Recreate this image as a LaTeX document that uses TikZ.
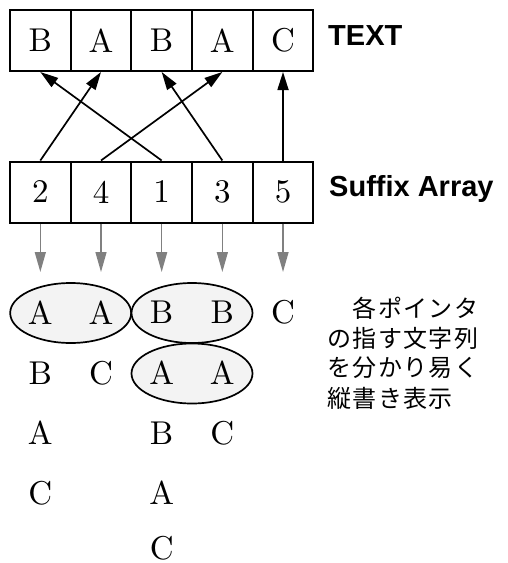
\documentclass[tikz,border=0pt]{standalone}
\usepackage{fontspec}
\setmainfont{lmroman10-regular.otf}
\newfontfamily\cjkfont[LetterSpace=6]{Noto Sans CJK JP}
\newfontfamily\labelfont{Liberation Sans}
\usetikzlibrary{shapes.geometric,arrows.meta}

\definecolor{ptrgray}{HTML}{808080}
\definecolor{groupfill}{HTML}{F3F3F3}

\tikzset{
  cellbox/.style={draw, line width=2pt, minimum width=60.67pt, minimum height=61pt,
    inner sep=0pt, font=\fontsize{33}{33}\selectfont},
  ptr/.style={line width=1.7pt, -{Triangle[length=18pt,width=11pt]}},
  grayptr/.style={ptrgray, line width=1.4pt, -{Triangle[length=20pt,width=11pt]}},
  letter/.style={inner sep=0pt, font=\fontsize{33}{33}\selectfont},
  group/.style={ellipse, draw, line width=1.7pt, fill=groupfill,
    minimum width=121pt, minimum height=60pt, inner sep=0pt},
  tag/.style={anchor=base west, inner sep=0pt, font=\labelfont\bfseries\fontsize{29}{29}\selectfont},
  note/.style={anchor=west, inner sep=0pt, font=\cjkfont\fontsize{24}{30}\selectfont},
}

\begin{document}
\begin{tikzpicture}[x=1pt, y=-1pt]
  \useasboundingbox (0,0) rectangle (507,563);

  % text row and suffix array row
  \foreach \ch [count=\i] in {B,A,B,A,C}
    \node[cellbox] (t\i) at ({10+60.67*(\i-0.5)},40.5) {\ch};
  \foreach \n [count=\i] in {2,4,1,3,5}
    \node[cellbox] (s\i) at ({10+60.67*(\i-0.5)},192) {\n};

  \node[tag] (textlbl) at (328,45) {TEXT};
  \node[tag] (salbl) at (329,196.5) {Suffix Array};

  % pointers from the suffix array into the text
  \draw[ptr] (s1.north) -- (t2.south);
  \draw[ptr] (s2.north) -- (t4.south);
  \draw[ptr] (s3.north) -- (t1.south);
  \draw[ptr] (s4.north) -- (t3.south);
  \draw[ptr] (s5.north) -- (t5.south);

  % downward pointers to the spelled-out suffixes
  \foreach \i in {1,...,5} {
    \coordinate (g\i) at ({10+60.67*(\i-0.5)},272);
    \draw[grayptr] (s\i.south) -- (g\i);
  }

  % shared-prefix groups
  \node[group] (e1) at (70.67,313) {};
  \node[group] (e2) at (192,313) {};
  \node[group] (e3) at (192,373.5) {};

  % suffixes written top to bottom
  \node[letter] (c1r1) at (40.33,312.5) {A};
  \node[letter] (c1r2) at (40.33,373) {B};
  \node[letter] (c1r3) at (40.33,433) {A};
  \node[letter] (c1r4) at (40.33,493) {C};

  \node[letter] (c2r1) at (101,312.5) {A};
  \node[letter] (c2r2) at (101,373) {C};

  \node[letter] (c3r1) at (161.67,312.5) {B};
  \node[letter] (c3r2) at (161.67,373) {A};
  \node[letter] (c3r3) at (161.67,433) {B};
  \node[letter] (c3r4) at (161.67,493) {A};
  \node[letter] (c3r5) at (161.67,548) {C};

  \node[letter] (c4r1) at (222.33,312.5) {B};
  \node[letter] (c4r2) at (222.33,373) {A};
  \node[letter] (c4r3) at (222.33,433) {C};

  \node[letter] (c5r1) at (283,312.5) {C};

  % explanatory note
  \node[note] (n1) at (327,308) {　各ポインタ};
  \node[note] (n2) at (327,338) {の指す文字列};
  \node[note] (n3) at (327,368) {を分かり易く};
  \node[note] (n4) at (327,398) {縦書き表示};
\end{tikzpicture}
\end{document}
